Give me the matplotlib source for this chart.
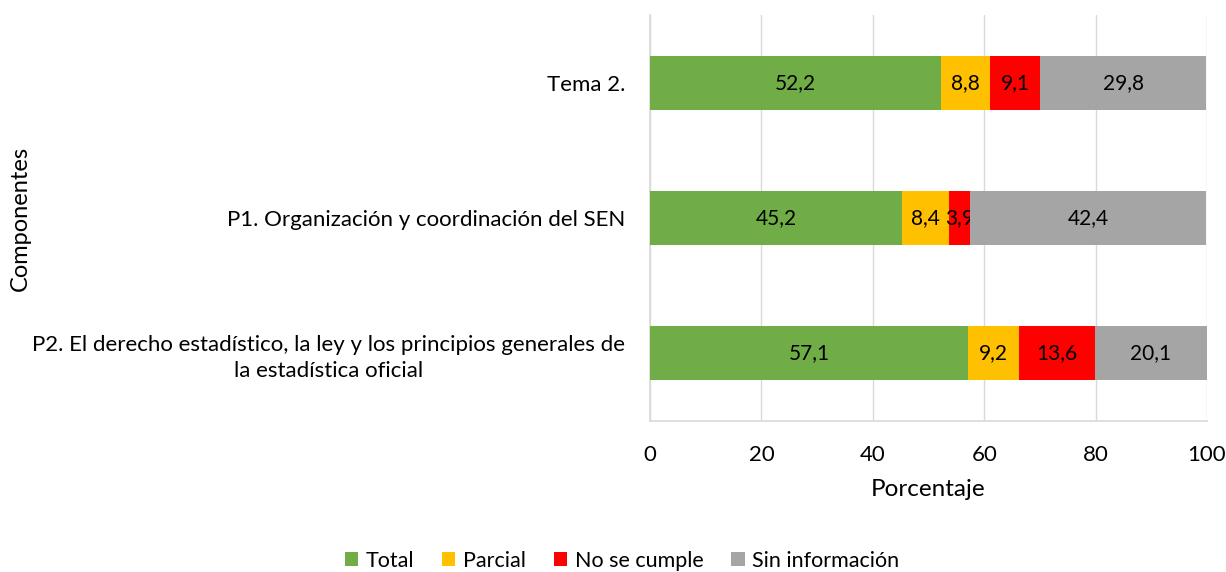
import matplotlib
matplotlib.use("Agg")
import matplotlib.pyplot as plt
import numpy as np

plt.rcParams["font.family"] = ["Lato", "DejaVu Sans"]

# Data (top to bottom)
categories = [
    "Tema 2.",
    "P1. Organización y coordinación del SEN",
    "P2. El derecho estadístico, la ley y los principios generales de\nla estadística oficial",
]
series_names = ["Total", "Parcial", "No se cumple", "Sin información"]
total = [52.2, 45.2, 57.1]
parcial = [8.8, 8.4, 9.2]
no_cumple = [9.1, 3.9, 13.6]
sin_info = [29.8, 42.4, 20.1]
colors = ["#70AD47", "#FFC000", "#FF0000", "#A5A5A5"]
x_ticks = [0, 20, 40, 60, 80, 100]

fig = plt.figure(figsize=(12.26, 5.72), dpi=100)
ax = fig.add_axes([650 / 1226, 1 - 421 / 572, 557 / 1226, 406 / 572])

ypos = np.arange(len(categories))
left = np.zeros(len(categories))
for name, vals, col in zip(series_names, [total, parcial, no_cumple, sin_info], colors):
    vals = np.array(vals)
    bars = ax.barh(ypos, vals, left=left, height=0.4, color=col, label=name, zorder=3)
    labels = [f"{v:.1f}".replace(".", ",") for v in vals]
    ax.bar_label(bars, labels=labels, label_type="center", fontsize=15, color="black")
    left += vals

ax.set_xlim(0, 100)
ax.set_ylim(len(categories) - 0.5, -0.5)
ax.set_xticks(x_ticks)
ax.set_xticklabels([str(t) for t in x_ticks], fontsize=16)
ax.set_yticks(ypos)
ax.set_yticklabels(categories, fontsize=16, multialignment="center", linespacing=1.35)
ax.tick_params(axis="both", length=0)
ax.tick_params(axis="x", pad=17)
ax.tick_params(axis="y", pad=18)
ax.grid(axis="x", color="#D9D9D9", linewidth=1, zorder=0)

for side in ["top", "right"]:
    ax.spines[side].set_visible(False)
for side in ["left", "bottom"]:
    ax.spines[side].set_color("#D9D9D9")
    ax.spines[side].set_linewidth(1.2)

ax.set_xlabel("Porcentaje", fontsize=17.5, labelpad=10)
fig.text(20 / 1226, 1 - 218 / 572, "Componentes", rotation=90, fontsize=17,
         ha="center", va="center")

handles, lbls = ax.get_legend_handles_labels()
fig.legend(handles, lbls, loc="center", bbox_to_anchor=(622 / 1226, 1 - 561 / 572),
           ncol=4, frameon=False, fontsize=15.5, handlelength=0.62, handleheight=0.62,
           handletextpad=0.35, columnspacing=1.3)

fig.savefig("out.png", dpi=100)
